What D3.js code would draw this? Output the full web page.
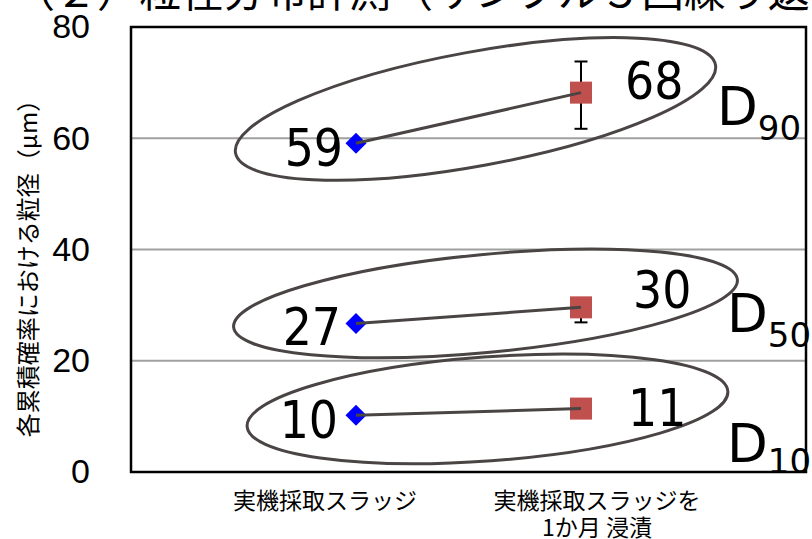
<!DOCTYPE html>
<html>
<head>
  <meta charset="utf-8">
  <style>
    body { margin: 0; background: #fff; }
    svg { display: block; }
  </style>
  <title>粒径分布計測</title>
</head>
<body>
  <script src="https://cdn.jsdelivr.net/npm/d3@7"></script>
  <script>
    // data
    var categories = ["fresh", "soaked"];
    var categoryLines = [["実機採取スラッジ"], ["実機採取スラッジを", "1か月 浸漬"]];
    var percentiles = ["90", "50", "10"];
    var freshValues = [59.1, 26.7, 10.2];
    var soakedValues = [68.2, 29.6, 11.4];
    var soakedErrUp = [5.6, 1.5, 0.6];
    var soakedErrDown = [6.5, 2.7, 0.6];
    var yTicks = [0, 20, 40, 60, 80];

    // layout (note: "top" is reserved on window, so use plot* names)
    var width = 812, height = 539;
    var plotLeft = 131, plotRight = 806, plotTop = 27, plotBottom = 472;
    var ink = "#4a4444";

    var x = d3.scalePoint().domain(categories).range([plotLeft, plotRight]).padding(1);
    var y = d3.scaleLinear().domain([0, 80]).range([plotBottom, plotTop]);

    var svg = d3.select("body").append("svg")
      .attr("width", width)
      .attr("height", height);

    // title (cut off by the top of the picture)
    svg.append("text")
      .attr("x", 13)
      .attr("y", 7)
      .attr("font-family", "Noto Sans CJK JP")
      .attr("font-size", 42)
      .text("（２）粒径分布計測（サンプル５回繰り返し測定）");

    // gridlines
    svg.append("g").selectAll("line")
      .data(yTicks.filter(function(t) { return t > 0 && t < 80; }))
      .enter().append("line")
      .attr("x1", plotLeft).attr("x2", plotRight)
      .attr("y1", function(d) { return y(d); })
      .attr("y2", function(d) { return y(d); })
      .attr("stroke", "#a0a0a0")
      .attr("stroke-width", 2);

    // y axis labels
    var yAxis = d3.axisLeft(y).tickValues(yTicks).tickSize(0).tickPadding(41);
    var yg = svg.append("g")
      .attr("transform", "translate(" + plotLeft + ",0)")
      .call(yAxis);
    yg.select(".domain").remove();
    yg.selectAll("text")
      .attr("font-family", "Liberation Sans, Arial, sans-serif")
      .attr("font-size", 34)
      .attr("fill", "#000");

    // frame
    svg.append("rect")
      .attr("x", plotLeft).attr("y", plotTop)
      .attr("width", plotRight - plotLeft).attr("height", plotBottom - plotTop)
      .attr("fill", "none")
      .attr("stroke", "#000")
      .attr("stroke-width", 2.5);

    // y title
    svg.append("text")
      .attr("transform", "translate(26," + ((plotTop + plotBottom) / 2 + 13) + ") rotate(-90)")
      .attr("text-anchor", "middle")
      .attr("dominant-baseline", "central")
      .attr("font-family", "Noto Sans CJK JP")
      .attr("font-size", 24)
      .text("各累積確率における粒径（μm）");

    // category labels
    var labelShift = [-31, 16];
    categories.forEach(function(c, i) {
      var t = svg.append("text")
        .attr("text-anchor", "middle")
        .attr("font-family", "Noto Sans CJK JP")
        .attr("font-size", 23);
      categoryLines[i].forEach(function(line, j) {
        t.append("tspan")
          .attr("x", x(c) + labelShift[i])
          .attr("y", 509 + j * 27)
          .text(line);
      });
    });

    // ellipses around each pair
    var ellipses = [
      { dx: 7, dy: -9, rx: 244, ry: 57, rot: -10.4 },
      { dx: 17, dy: -12, rx: 253, ry: 49, rot: -5.4 },
      { dx: 19, dy: -3, rx: 241, ry: 52, rot: -4.2 }
    ];
    svg.append("g").selectAll("ellipse")
      .data(percentiles)
      .enter().append("ellipse")
      .attr("transform", function(d, i) {
        var cx = (x("fresh") + x("soaked")) / 2 + ellipses[i].dx;
        var cy = (y(freshValues[i]) + y(soakedValues[i])) / 2 + ellipses[i].dy;
        return "translate(" + cx + "," + cy + ") rotate(" + ellipses[i].rot + ")";
      })
      .attr("rx", function(d, i) { return ellipses[i].rx; })
      .attr("ry", function(d, i) { return ellipses[i].ry; })
      .attr("fill", "none")
      .attr("stroke", ink)
      .attr("stroke-width", 3);

    // error bars (behind the squares)
    var eb = svg.append("g").attr("stroke", "#000").attr("stroke-width", 2);
    soakedValues.forEach(function(v, i) {
      var cx = x("soaked");
      var y1 = y(v + soakedErrUp[i]), y2 = y(v - soakedErrDown[i]);
      eb.append("line").attr("x1", cx).attr("x2", cx).attr("y1", y1).attr("y2", y2);
      eb.append("line").attr("x1", cx - 6.5).attr("x2", cx + 6.5).attr("y1", y1).attr("y2", y1);
      eb.append("line").attr("x1", cx - 6.5).attr("x2", cx + 6.5).attr("y1", y2).attr("y2", y2);
    });

    // squares
    svg.append("g").selectAll("rect")
      .data(soakedValues)
      .enter().append("rect")
      .attr("x", x("soaked") - 11)
      .attr("y", function(d) { return y(d) - 11; })
      .attr("width", 22).attr("height", 22)
      .attr("fill", "#c0504d");

    // diamonds
    svg.append("g").selectAll("path")
      .data(freshValues)
      .enter().append("path")
      .attr("transform", function(d) { return "translate(" + x("fresh") + "," + y(d) + ") rotate(45)"; })
      .attr("d", d3.symbol().type(d3.symbolSquare).size(220))
      .attr("fill", "#0000ff");

    // connecting lines (drawn over the markers)
    svg.append("g").selectAll("line")
      .data(percentiles)
      .enter().append("line")
      .attr("x1", x("fresh"))
      .attr("y1", function(d, i) { return y(freshValues[i]); })
      .attr("x2", x("soaked"))
      .attr("y2", function(d, i) { return y(soakedValues[i]); })
      .attr("stroke", ink)
      .attr("stroke-width", 3);

    // value labels
    var fmt = d3.format(".0f");
    var freshOffset = [[-13, 23], [-15, 22], [-18, 23]];
    var soakedOffset = [[44, 6], [52, 1], [47, 17]];
    var labels = svg.append("g")
      .attr("font-family", "DejaVu Sans Condensed, DejaVu Sans, sans-serif")
      .attr("font-size", 51);
    freshValues.forEach(function(v, i) {
      labels.append("text")
        .attr("x", x("fresh") + freshOffset[i][0])
        .attr("y", y(v) + freshOffset[i][1])
        .attr("text-anchor", "end")
        .text(fmt(v));
    });
    soakedValues.forEach(function(v, i) {
      labels.append("text")
        .attr("x", x("soaked") + soakedOffset[i][0])
        .attr("y", y(v) + soakedOffset[i][1])
        .text(fmt(v));
    });

    // D90 / D50 / D10 tags
    var tagPos = [[717, 125], [727, 332], [727, 462]];
    percentiles.forEach(function(p, i) {
      var t = svg.append("text")
        .attr("x", tagPos[i][0])
        .attr("y", tagPos[i][1])
        .attr("font-family", "DejaVu Sans, sans-serif")
        .attr("font-size", 53);
      t.append("tspan").text("D");
      t.append("tspan").attr("font-size", 34).attr("dy", i == 2 ? 11 : 15).text(p);
    });
  </script>
</body>
</html>
